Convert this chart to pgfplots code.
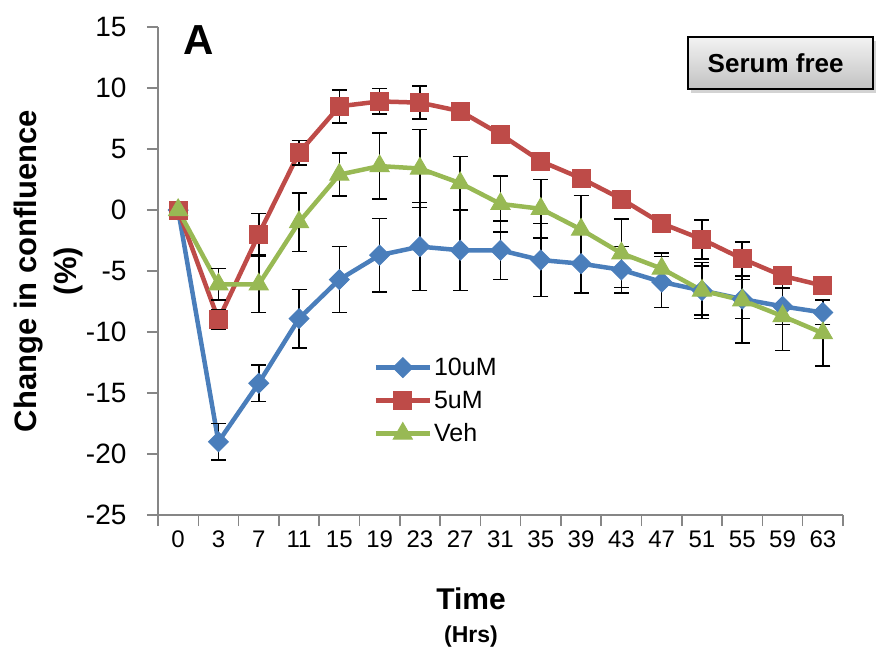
\documentclass[border=0pt]{standalone}
\usepackage{pgfplots}
\pgfplotsset{compat=1.18}
\usepackage{pgfplotstable}
\usepackage{fontspec}
\setmainfont{Liberation Sans}
\usetikzlibrary{shadows}

\definecolor{serBlue}{HTML}{4A7EBB}
\definecolor{serRed}{HTML}{BE4B48}
\definecolor{serGreen}{HTML}{98B954}
\definecolor{axGray}{HTML}{868686}

% x = category index (0,3,7,...,63 h), y = change, e = error
\pgfplotstableread{
x y e
0 0 0
1 -19.0 1.5
2 -14.2 1.5
3 -8.9 2.4
4 -5.7 2.7
5 -3.7 3.0
6 -3.0 3.6
7 -3.3 3.3
8 -3.3 2.4
9 -4.1 3.0
10 -4.4 2.4
11 -4.9 1.9
12 -5.9 2.1
13 -6.6 2.3
14 -7.3 1.6
15 -7.9 1.5
16 -8.4 1.0
}\tenuM
\pgfplotstableread{
x y e
0 0 0
1 -9.0 0.8
2 -2.0 1.7
3 4.7 1.0
4 8.5 1.35
5 8.9 1.05
6 8.8 1.35
7 8.1 0.3
8 6.2 0.3
9 4.0 0.3
10 2.6 0.3
11 0.9 0.3
12 -1.1 0.4
13 -2.4 1.6
14 -4.0 1.4
15 -5.4 0.6
16 -6.2 0.5
}\fiveuM
\pgfplotstableread{
x y e
0 0 0
1 -6.1 1.3
2 -6.1 2.3
3 -1.0 2.4
4 2.9 1.75
5 3.6 2.7
6 3.4 3.2
7 2.2 2.2
8 0.5 2.3
9 0.1 2.4
10 -1.6 2.8
11 -3.55 2.8
12 -4.8 1.3
13 -6.6 2.0
14 -7.4 3.5
15 -8.7 2.8
16 -10.1 2.7
}\veh

\begin{document}
\begin{tikzpicture}
\path[use as bounding box] (-158pt,-133pt) rectangle (719pt,515pt);
\begin{axis}[
    at={(0pt,0pt)}, anchor=south west,
    scale only axis,
    width=685pt, height=488pt,
    xmin=-0.5, xmax=16.5,
    ymin=-25, ymax=15,
    ytick={-25,-20,...,15},
    xtick={0,...,16},
    xticklabels={0,3,7,11,15,19,23,27,31,35,39,43,47,51,55,59,63},
    minor xtick={-0.5,0.5,...,16.5},
    minor ytick={-25,-20,...,15},
    major tick length=0pt,
    minor tick length=11pt,
    tick align=outside,
    axis lines*=left,
    axis line style={draw=axGray, line width=1.5pt, -},
    every tick/.style={draw=axGray, line width=1.5pt},
    /pgf/number format/assume math mode=true,
    xticklabel style={font=\fontsize{24}{28}\selectfont, yshift=-12pt},
    yticklabel style={font=\fontsize{28}{30}\selectfont, xshift=-28pt},
    every axis y label/.style={at={(axis description cs:-0.1606,0.5)},
        rotate=90, anchor=center, align=center,
        font=\bfseries\fontsize{31}{40}\selectfont},
    ylabel={Change in confluence\\(\%)},
    every axis x label/.style={at={(axis description cs:0.457,-0.211)},
        anchor=center, align=center,
        font=\bfseries\fontsize{30}{33}\selectfont},
    xlabel={Time\\\fontsize{23}{26}\selectfont (Hrs)},
    clip=false,
    legend style={draw=none, fill=none, at={(0.31,0.33)}, anchor=north west,
        font=\fontsize{25}{30}\selectfont, row sep=10pt},
    legend cell align=left,
    legend image code/.code={\draw[mark repeat=2,mark phase=2,#1]
        plot coordinates {(0pt,0pt) (27pt,0pt) (54pt,0pt)};},
    error bars/y dir=both,
    error bars/y explicit,
    error bars/error bar style={black, line width=1.6pt},
    error bars/error mark options={black, line width=1.6pt, mark size=7.5pt, rotate=90},
]
\addplot[serBlue, line width=4.5pt, mark=square*, mark size=7pt,
    mark options={rotate=45, fill=serBlue, line width=1pt}]
    table[x=x, y=y, y error=e] {\tenuM};
\addlegendentry{10uM}
\addplot[serRed, line width=4.5pt, mark=square*, mark size=9pt,
    mark options={fill=serRed, line width=1pt}]
    table[x=x, y=y, y error=e] {\fiveuM};
\addlegendentry{5uM}
\addplot[serGreen, line width=4.5pt, mark=triangle*, mark size=11pt,
    mark options={fill=serGreen, line width=1pt}]
    table[x=x, y=y, y error=e] {\veh};
\addlegendentry{Veh}

\node[font=\bfseries\fontsize{42}{46}\selectfont] at (axis description cs:0.059,0.973) {A};
\node[draw=black, line width=1.6pt, top color=white!95!black, bottom color=white!76!black,
    minimum width=185pt, minimum height=52pt,
    drop shadow={shadow xshift=3pt, shadow yshift=-4pt, opacity=0.35},
    font=\bfseries\fontsize{26}{30}\selectfont]
    at (axis description cs:0.909,0.926) {\hspace*{-10pt}Serum free};
\end{axis}
\end{tikzpicture}
\end{document}
